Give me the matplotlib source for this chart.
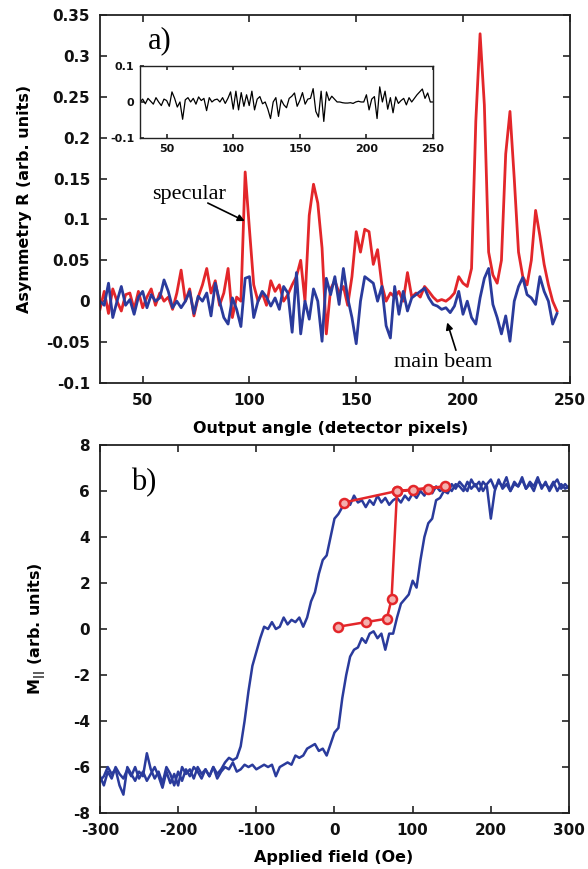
import matplotlib
matplotlib.use("Agg")
import matplotlib.pyplot as plt
from matplotlib.ticker import FuncFormatter

# ---- panel a) : asymmetry vs detector pixel ----
ANGLE = list(range(30, 246, 2))

RED_R = [
    -0.010, 0.012, -0.015, 0.015, 0.000, -0.012, 0.008, 0.010, -0.010, 0.012,
    -0.008, 0.005, 0.015, -0.005, 0.010, 0.000, 0.005, -0.010, 0.010, 0.038,
    0.000, 0.015, -0.018, 0.005, 0.020, 0.040, 0.010, 0.025, -0.005, 0.010,
    0.040, -0.020, 0.005, 0.000, 0.158, 0.088, 0.020, 0.000, 0.010, -0.005,
    0.025, 0.012, 0.020, 0.000, 0.008, 0.020, 0.030, 0.050, 0.000, 0.105,
    0.143, 0.120, 0.065, -0.040, 0.015, 0.025, 0.010, 0.018, -0.005, 0.030,
    0.085, 0.060, 0.088, 0.085, 0.045, 0.063, 0.020, 0.000, 0.010, 0.005,
    0.012, 0.000, 0.035, 0.005, 0.010, 0.005, 0.018, 0.012, 0.005, 0.000,
    0.002, 0.000, 0.004, 0.010, 0.030, 0.022, 0.018, 0.040, 0.220, 0.327,
    0.240, 0.060, 0.032, 0.022, 0.050, 0.180, 0.232, 0.150, 0.060, 0.030,
    0.020, 0.050, 0.111, 0.080, 0.045, 0.020, 0.000, -0.012,
]

BLUE_R = [
    0.000, -0.005, 0.022, -0.020, 0.000, 0.018, -0.005, 0.002, -0.016, 0.005,
    0.012, -0.008, 0.008, 0.000, 0.004, 0.026, 0.012, -0.008, 0.000, -0.008,
    0.000, 0.012, -0.015, 0.006, 0.000, 0.010, -0.018, 0.022, 0.000, -0.020,
    -0.028, 0.004, -0.010, -0.031, 0.028, 0.030, -0.020, 0.000, 0.012, 0.005,
    -0.006, 0.004, -0.010, 0.018, 0.010, -0.038, 0.035, -0.040, 0.000, -0.022,
    0.015, 0.000, -0.049, 0.028, 0.008, 0.030, -0.004, 0.040, 0.004, -0.020,
    -0.052, 0.000, 0.030, 0.026, 0.022, 0.000, 0.018, -0.030, -0.045, 0.018,
    -0.016, 0.012, -0.012, 0.004, 0.008, 0.012, 0.016, 0.004, -0.004, -0.006,
    -0.010, -0.008, -0.014, -0.006, 0.012, -0.016, 0.000, -0.020, -0.028, 0.004,
    0.028, 0.040, -0.004, -0.020, -0.040, -0.018, -0.049, 0.000, 0.018, 0.029,
    0.008, 0.004, -0.004, 0.030, 0.012, 0.000, -0.028, -0.015,
]

INSET_ANGLE = list(range(30, 252, 2))
INSET_R = [
    0.000, 0.008, -0.005, 0.010, 0.002, -0.006, 0.012, 0.000, -0.010, 0.008,
    0.004, -0.012, 0.028, 0.010, -0.014, 0.000, -0.048, 0.006, 0.012, 0.000,
    0.010, -0.006, 0.014, 0.004, 0.010, -0.024, 0.012, 0.000, 0.006, 0.008,
    0.000, 0.012, -0.004, 0.010, 0.028, -0.020, 0.030, -0.022, 0.026, -0.012,
    0.020, -0.010, 0.030, -0.022, 0.008, 0.015, -0.005, 0.000, -0.020, -0.046,
    0.000, 0.012, -0.040, 0.006, -0.008, -0.016, 0.010, 0.016, 0.025, -0.012,
    0.004, 0.026, -0.006, 0.008, 0.010, 0.037, -0.026, -0.042, 0.030, -0.054,
    0.028, 0.004, 0.016, 0.008, 0.000, 0.000, -0.002, -0.003, -0.003, -0.002,
    -0.004, 0.000, 0.002, 0.000, 0.000, 0.020, -0.022, 0.008, 0.015, -0.046,
    0.042, 0.000, 0.030, -0.020, 0.012, -0.030, 0.014, -0.004, 0.004, 0.010,
    -0.008, 0.012, 0.000, 0.010, 0.020, 0.028, 0.036, 0.010, 0.025, 0.000,
    0.000,
]

A_XTICKS = [50, 100, 150, 200, 250]
A_YTICKS = [-0.1, -0.05, 0, 0.05, 0.1, 0.15, 0.2, 0.25, 0.3, 0.35]
INSET_XTICKS = [50, 100, 150, 200, 250]
INSET_YTICKS = [-0.1, 0, 0.1]

# ---- panel b) : hysteresis loop ----
FIELD_DOWN = list(range(300, -305, -5))
M_DOWN = [
    6.2, 6.1, 6.3, 6.0, 6.4, 6.1, 6.3, 6.2, 6.5, 6.0,
    6.3, 6.1, 6.6, 6.2, 6.4, 6.0, 6.3, 6.1, 6.5, 6.0,
    4.8, 6.2, 6.4, 6.0, 6.3, 6.1, 6.4, 6.0, 6.2, 6.3,
    6.0, 6.2, 6.1, 6.0, 6.2, 5.9, 6.1, 5.8, 6.0, 5.7,
    5.9, 5.6, 5.8, 5.5, 5.7, 5.6, 5.4, 5.7, 5.5, 5.8,
    5.4, 5.6, 5.3, 5.6, 5.5, 5.8, 5.4, 5.6, 5.3, 5.0,
    4.8, 4.0, 3.2, 3.0, 2.4, 1.6, 1.2, 0.5, 0.1, 0.5,
    0.3, 0.4, 0.2, 0.5, 0.1, 0.0, 0.3, 0.0, 0.1, -0.4,
    -1.0, -1.6, -2.7, -4.0, -5.1, -5.6, -5.7, -5.6, -5.8, -6.1,
    -6.3, -6.0, -6.4, -6.1, -6.5, -6.2, -6.0, -6.4, -6.1, -6.6,
    -6.2, -6.8, -6.3, -6.0, -6.7, -6.2, -6.5, -6.1, -5.4, -6.4,
    -6.2, -6.6, -6.3, -6.0, -7.2, -6.8, -6.1, -6.3, -6.0, -6.4,
    -6.6,
]

FIELD_UP = list(range(-300, 305, 5))
M_UP = [
    -6.4, -6.8, -6.2, -6.5, -6.0, -6.3, -6.5, -6.1, -6.4, -6.0,
    -6.5, -6.2, -6.6, -6.3, -6.0, -6.4, -6.9, -6.2, -6.7, -6.3,
    -6.8, -6.0, -6.3, -6.1, -6.5, -6.0, -6.3, -6.1, -6.4, -6.0,
    -6.5, -6.2, -6.0, -6.1, -5.8, -6.2, -6.1, -5.9, -6.0, -5.9,
    -6.1, -6.0, -5.9, -6.0, -5.9, -6.4, -6.0, -5.9, -5.8, -5.9,
    -5.5, -5.6, -5.5, -5.2, -5.1, -5.0, -5.3, -5.2, -5.5, -5.0,
    -4.5, -4.3, -3.0, -2.0, -1.2, -0.9, -0.8, -0.4, -0.6, -0.2,
    -0.1, -0.4, -0.2, -0.9, -0.2, -0.2, 0.5, 1.1, 1.3, 1.5,
    2.1, 1.8, 3.0, 4.0, 4.6, 4.8, 5.6, 5.7, 6.0, 5.9,
    6.3, 6.1, 6.4, 6.2, 6.0, 6.5, 6.2, 6.4, 6.0, 6.3,
    6.5, 6.1, 6.4, 6.2, 6.6, 6.0, 6.3, 6.2, 6.5, 6.1,
    6.4, 6.2, 6.6, 6.1, 6.4, 6.0, 6.3, 6.5, 6.1, 6.3,
    6.1,
]

# red open-circle sequence (field up, then back down)
PT_FIELD = [5, 40, 67, 73, 80, 100, 120, 141, 80, 12]
PT_M = [0.1, 0.3, 0.45, 1.3, 6.0, 6.05, 6.1, 6.2, 6.0, 5.5]

B_XTICKS = [-300, -200, -100, 0, 100, 200, 300]
B_YTICKS = [-8, -6, -4, -2, 0, 2, 4, 6, 8]

RED = "#e3262a"
BLUE = "#2a3b9c"

plt.rcParams["font.family"] = "DejaVu Sans"
plt.rcParams["font.weight"] = "bold"
plt.rcParams["axes.labelweight"] = "bold"
plt.rcParams["axes.linewidth"] = 1.3
plt.rcParams["axes.edgecolor"] = "#222222"

fmt = FuncFormatter(lambda v, p: "%g" % v)


def style_axes(ax, size=11, pad=7):
    ax.tick_params(direction="in", length=5, width=1.1, top=True, right=True,
                   labelsize=size, pad=pad, colors="#111111")
    ax.xaxis.set_major_formatter(fmt)
    ax.yaxis.set_major_formatter(fmt)


fig = plt.figure(figsize=(5.88, 8.69), dpi=100)

# panel a
ax1 = fig.add_axes([0.170, 0.5593, 0.799, 0.4235])
ax1.plot(ANGLE, RED_R, color=RED, lw=2.0)
ax1.plot(ANGLE, BLUE_R, color=BLUE, lw=2.0)
ax1.set_xlim(30, 250)
ax1.set_ylim(-0.1, 0.35)
ax1.set_xticks(A_XTICKS)
ax1.set_yticks(A_YTICKS)
style_axes(ax1)
ax1.set_xlabel("Output angle (detector pixels)", fontsize=11.5)
ax1.set_ylabel("Asymmetry R (arb. units)", fontsize=11.5)
ax1.xaxis.set_label_coords(0.49, -0.102)
ax1.yaxis.set_label_coords(-0.145, 0.5)

ax1.text(58, 0.319, "a)", family="Liberation Serif", fontsize=22,
         fontweight="normal", ha="center", va="center")
ax1.text(71.6, 0.13, "specular", family="Liberation Serif", fontsize=16,
         fontweight="normal", ha="center", va="center")
ax1.annotate("", xy=(97.8, 0.098), xytext=(80.5, 0.12),
             arrowprops=dict(arrowstyle="-|>", color="black", lw=1.2,
                             mutation_scale=10, shrinkA=0, shrinkB=0))
ax1.text(190.5, -0.0755, "main beam", family="Liberation Serif", fontsize=16,
         fontweight="normal", ha="center", va="center")
ax1.annotate("", xy=(192.6, -0.026), xytext=(196.7, -0.06),
             arrowprops=dict(arrowstyle="-|>", color="black", lw=1.2,
                             mutation_scale=10, shrinkA=0, shrinkB=0))

# inset
axi = fig.add_axes([0.2381, 0.8412, 0.4983, 0.0829])
axi.plot(INSET_ANGLE, INSET_R, color="black", lw=0.9)
axi.set_xlim(30, 250)
axi.set_ylim(-0.1, 0.1)
axi.set_xticks(INSET_XTICKS)
axi.set_yticks(INSET_YTICKS)
style_axes(axi, size=8, pad=4)
axi.tick_params(length=3, right=False)
for s in axi.spines.values():
    s.set_linewidth(1.0)

# panel b
ax2 = fig.add_axes([0.170, 0.0644, 0.7977, 0.4235])
ax2.plot(FIELD_DOWN, M_DOWN, color=BLUE, lw=1.8)
ax2.plot(FIELD_UP, M_UP, color=BLUE, lw=1.8)
ax2.plot(PT_FIELD, PT_M, color=RED, lw=1.8, marker="o", ms=6.5, mew=1.8,
         mfc="#f4b0ae", mec=RED)
ax2.set_xlim(-300, 300)
ax2.set_ylim(-8, 8)
ax2.set_xticks(B_XTICKS)
ax2.set_yticks(B_YTICKS)
style_axes(ax2)
ax2.set_xlabel("Applied field (Oe)", fontsize=11.5)
ax2.set_ylabel(r"M$_{||}$ (arb. units)", fontsize=11.5)
ax2.xaxis.set_label_coords(0.498, -0.1)
ax2.yaxis.set_label_coords(-0.11, 0.5)
ax2.text(-243.7, 6.35, "b)", family="Liberation Serif", fontsize=22,
         fontweight="normal", ha="center", va="center")

fig.savefig("out.png", dpi=100)
